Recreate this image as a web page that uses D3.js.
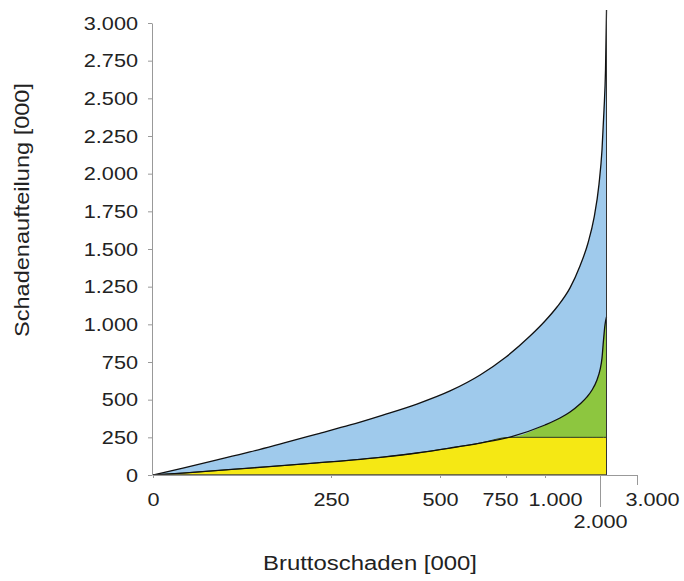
<!DOCTYPE html>
<html>
<head>
<meta charset="utf-8">
<script src="https://cdn.jsdelivr.net/npm/d3@7"></script>
<style>
  body { margin: 0; background: #fff; }
  text { font-family: "Liberation Sans", Arial, sans-serif; fill: #222; }
</style>
</head>
<body>
<svg id="chart" width="684" height="581"></svg>
<script>
// Bruttoschaden [000] (x) und Schadenaufteilung [000] (y)
const bruttoOben = [0, 42, 90, 136, 183, 230, 294, 369, 447, 538, 652, 750, 904, 1000, 1218, 1455, 1636, 1782, 1891, 1982, 2054, 2108, 2149, 2176];
const schadenOben = [0, 46, 100, 153, 212, 272, 332, 398, 471, 558, 664, 783, 922, 1022, 1115, 1242, 1387, 1540, 1706, 1931, 2157, 2422, 2688, 3086];
const bruttoUnten = [0, 42, 136, 230, 369, 447, 538, 652, 776, 1000, 1273, 1455, 1636, 1764, 1855, 1945, 2000, 2054, 2095, 2135, 2176];
const schadenUnten = [0, 13, 46, 80, 119, 146, 179, 212, 252, 332, 378, 418, 471, 518, 564, 631, 697, 776, 896, 996, 1049];
const selbstbehalt = 250;
const xTicks = [0, 250, 500, 750, 1000, 2000, 3000];
const yTicks = [0, 250, 500, 750, 1000, 1250, 1500, 1750, 2000, 2250, 2500, 2750, 3000];

const fmt = d => d3.format(",")(d).replace(/,/g, ".");

const svg = d3.select("#chart");

// x achse ist nicht linear -> stueckweise lineare skala
const x = d3.scaleLinear()
    .domain([0, 250, 500, 750, 1000, 2000, 3000])
    .range([153, 331, 440, 506, 545, 600, 637]);
const y = d3.scaleLinear().domain([0, 3000]).range([475, 23]);

const oben = bruttoOben.map((b, i) => ({ b: b, v: schadenOben[i] }));
const unten = bruttoUnten.map((b, i) => ({ b: b, v: schadenUnten[i] }));
const curve = d3.curveMonotoneX;

// blau: bis obere kurve, wird unten von gelb + gruen ueberdeckt
svg.append("path").datum(oben)
    .attr("fill", "#9fcaec")
    .attr("d", d3.area().curve(curve).x(d => x(d.b)).y0(y(0)).y1(d => y(d.v)));

// gruen: oberhalb selbstbehalt bis untere kurve
svg.append("path").datum(unten)
    .attr("fill", "#8dc63f")
    .attr("d", d3.area().curve(curve).x(d => x(d.b)).y0(y(selbstbehalt)).y1(d => y(Math.max(d.v, selbstbehalt))));

// gelb: bis selbstbehalt
svg.append("path").datum(unten)
    .attr("fill", "#f5e814")
    .attr("d", d3.area().curve(curve).x(d => x(d.b)).y0(y(0)).y1(d => y(Math.min(d.v, selbstbehalt))));

// linien
svg.append("path").datum(unten)
    .attr("fill", "none").attr("stroke", "#2b3a1e").attr("stroke-width", 1)
    .attr("d", d3.line().curve(curve).x(d => x(d.b)).y(d => y(Math.min(d.v, selbstbehalt))));
svg.append("path").datum(unten)
    .attr("fill", "none").attr("stroke", "#111").attr("stroke-width", 1.3)
    .attr("d", d3.line().curve(curve).x(d => x(d.b)).y(d => y(d.v)));
svg.append("path").datum(oben)
    .attr("fill", "none").attr("stroke", "#111").attr("stroke-width", 1.3)
    .attr("d", d3.line().curve(curve).x(d => x(d.b)).y(d => y(d.v)));

const last = oben[oben.length - 1];
svg.append("line")
    .attr("x1", x(last.b)).attr("x2", x(last.b))
    .attr("y1", y(0)).attr("y2", y(last.v))
    .attr("stroke", "#333").attr("stroke-width", 1);
svg.append("line")
    .attr("x1", x(0)).attr("x2", x(last.b))
    .attr("y1", y(0)).attr("y2", y(0))
    .attr("stroke", "#444").attr("stroke-width", 1.5);

// schrift ist im original breiter gezogen
function stretch(sel, k) {
    sel.each(function () {
        const w = this.getComputedTextLength();
        d3.select(this).attr("textLength", w * k).attr("lengthAdjust", "spacingAndGlyphs");
    });
}

// y achse
const yAxis = svg.append("g")
    .attr("transform", "translate(" + (x(0) - 1) + ",0)")
    .call(d3.axisLeft(y).tickValues(yTicks).tickFormat(fmt).tickSize(4).tickPadding(10).tickSizeOuter(0));
yAxis.select(".domain").attr("stroke", "#999");
yAxis.selectAll(".tick line").attr("stroke", "#999");
yAxis.selectAll("text").style("font-size", "19px").attr("fill", "#222");
stretch(yAxis.selectAll("text"), 1.14);

// x achse
const xAxis = svg.append("g")
    .attr("transform", "translate(0," + y(0) + ")")
    .call(d3.axisBottom(x).tickValues(xTicks).tickFormat(fmt).tickSize(3).tickPadding(15).tickSizeOuter(0));
xAxis.select(".domain").attr("stroke", "#999");
xAxis.selectAll(".tick line").attr("stroke", "#999");
xAxis.selectAll("text").style("font-size", "19px").attr("fill", "#222");
stretch(xAxis.selectAll("text"), 1.14);
xAxis.selectAll(".tick").filter(d => d === 750).select("text").attr("dx", -6);
xAxis.selectAll(".tick").filter(d => d === 1000).select("text").attr("dx", 10);
xAxis.selectAll(".tick").filter(d => d === 2000).select("line").attr("y2", 32);
xAxis.selectAll(".tick").filter(d => d === 2000).select("text").attr("y", 40);
xAxis.selectAll(".tick").filter(d => d === 3000).select("line").attr("y2", 10);
xAxis.selectAll(".tick").filter(d => d === 3000).select("text").attr("dx", 15);

// achsentitel
svg.append("text")
    .attr("x", 370).attr("y", 570)
    .attr("text-anchor", "middle")
    .style("font-size", "20px")
    .attr("textLength", 214).attr("lengthAdjust", "spacingAndGlyphs")
    .text("Bruttoschaden [000]");
svg.append("text")
    .attr("transform", "translate(29,210) rotate(-90)")
    .attr("text-anchor", "middle")
    .style("font-size", "20px")
    .attr("textLength", 254).attr("lengthAdjust", "spacingAndGlyphs")
    .text("Schadenaufteilung [000]");
</script>
</body>
</html>
